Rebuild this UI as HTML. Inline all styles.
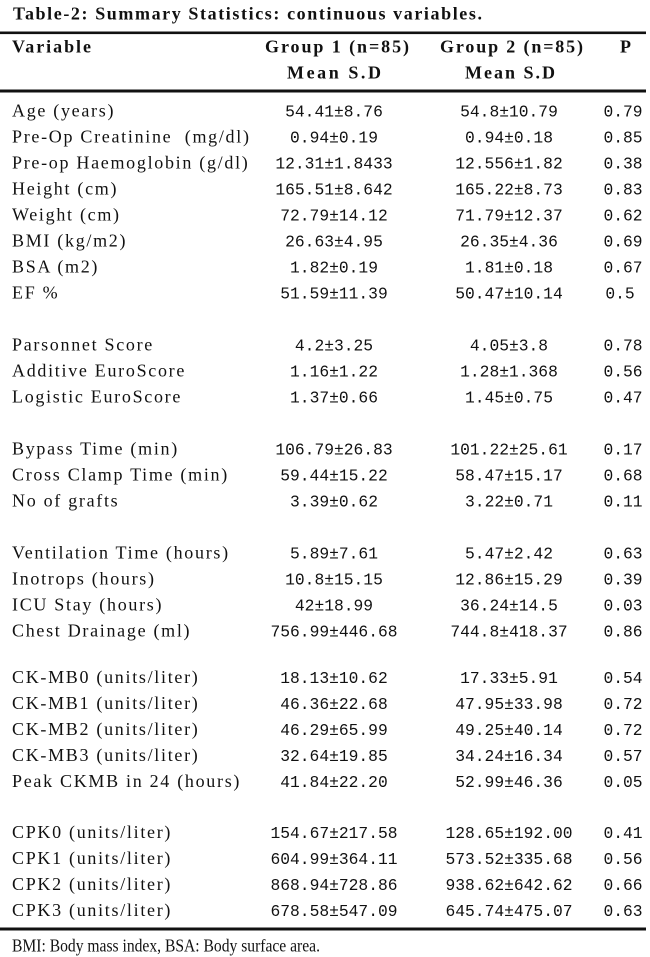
<!DOCTYPE html>
<html>
<head>
<meta charset="utf-8">
<style>
html,body{margin:0;padding:0;background:#fff;}
svg{display:block;}
.t{font-family:"Liberation Serif",serif;font-size:18px;fill:#111;white-space:pre;}
.b{font-weight:bold;}
.l{font-family:"Liberation Serif",serif;font-size:18px;fill:#111;letter-spacing:1.7px;white-space:pre;}
.n{font-family:"Liberation Mono",monospace;font-size:16.3px;fill:#111;text-anchor:middle;white-space:pre;}
</style>
</head>
<body>
<svg width="650" height="957" viewBox="0 0 650 957" xmlns="http://www.w3.org/2000/svg">
<rect x="0" y="0" width="650" height="957" fill="#fff"/>
<text class="t b" x="13" y="19.3" textLength="469" lengthAdjust="spacing">Table-2: Summary Statistics: continuous variables.</text>
<rect x="0" y="31.5" width="646" height="2.6" fill="#111"/>
<text class="t b" x="12" y="52.7" textLength="79" lengthAdjust="spacing">Variable</text>
<text class="t b" x="265" y="52.7" textLength="144" lengthAdjust="spacing">Group 1 (n=85)</text>
<text class="t b" x="440" y="52.7" textLength="143" lengthAdjust="spacing">Group 2 (n=85)</text>
<text class="t b" x="620" y="52.7">P</text>
<text class="t b" x="287" y="78.3" textLength="94" lengthAdjust="spacing">Mean S.D</text>
<text class="t b" x="465" y="78.3" textLength="90" lengthAdjust="spacing">Mean S.D</text>
<rect x="0" y="89.5" width="646" height="3" fill="#111"/>

<g>
<text class="l" x="12" y="116.7">Age (years)</text>
<text class="n" x="334" y="116.7">54.41±8.76</text><text class="n" x="509" y="116.7">54.8±10.79</text><text class="n" x="623" y="116.7">0.79</text>

<text class="l" x="12" y="142.7">Pre-Op Creatinine  (mg/dl)</text>
<text class="n" x="334" y="142.7">0.94±0.19</text><text class="n" x="509" y="142.7">0.94±0.18</text><text class="n" x="623" y="142.7">0.85</text>

<text class="l" x="12" y="168.7">Pre-op Haemoglobin (g/dl)</text>
<text class="n" x="334" y="168.7">12.31±1.8433</text><text class="n" x="509" y="168.7">12.556±1.82</text><text class="n" x="623" y="168.7">0.38</text>

<text class="l" x="12" y="194.7">Height (cm)</text>
<text class="n" x="334" y="194.7">165.51±8.642</text><text class="n" x="509" y="194.7">165.22±8.73</text><text class="n" x="623" y="194.7">0.83</text>

<text class="l" x="12" y="220.7">Weight (cm)</text>
<text class="n" x="334" y="220.7">72.79±14.12</text><text class="n" x="509" y="220.7">71.79±12.37</text><text class="n" x="623" y="220.7">0.62</text>

<text class="l" x="12" y="246.7">BMI (kg/m2)</text>
<text class="n" x="334" y="246.7">26.63±4.95</text><text class="n" x="509" y="246.7">26.35±4.36</text><text class="n" x="623" y="246.7">0.69</text>

<text class="l" x="12" y="272.7">BSA (m2)</text>
<text class="n" x="334" y="272.7">1.82±0.19</text><text class="n" x="509" y="272.7">1.81±0.18</text><text class="n" x="623" y="272.7">0.67</text>

<text class="l" x="12" y="298.7">EF %</text>
<text class="n" x="334" y="298.7">51.59±11.39</text><text class="n" x="509" y="298.7">50.47±10.14</text><text class="n" x="620" y="298.7">0.5</text>

<text class="l" x="12" y="350.7">Parsonnet Score</text>
<text class="n" x="334" y="350.7">4.2±3.25</text><text class="n" x="509" y="350.7">4.05±3.8</text><text class="n" x="623" y="350.7">0.78</text>

<text class="l" x="12" y="376.7">Additive EuroScore</text>
<text class="n" x="334" y="376.7">1.16±1.22</text><text class="n" x="509" y="376.7">1.28±1.368</text><text class="n" x="623" y="376.7">0.56</text>

<text class="l" x="12" y="402.7">Logistic EuroScore</text>
<text class="n" x="334" y="402.7">1.37±0.66</text><text class="n" x="509" y="402.7">1.45±0.75</text><text class="n" x="623" y="402.7">0.47</text>

<text class="l" x="12" y="454.7">Bypass Time (min)</text>
<text class="n" x="334" y="454.7">106.79±26.83</text><text class="n" x="509" y="454.7">101.22±25.61</text><text class="n" x="623" y="454.7">0.17</text>

<text class="l" x="12" y="480.7">Cross Clamp Time (min)</text>
<text class="n" x="334" y="480.7">59.44±15.22</text><text class="n" x="509" y="480.7">58.47±15.17</text><text class="n" x="623" y="480.7">0.68</text>

<text class="l" x="12" y="506.7">No of grafts</text>
<text class="n" x="334" y="506.7">3.39±0.62</text><text class="n" x="509" y="506.7">3.22±0.71</text><text class="n" x="623" y="506.7">0.11</text>

<text class="l" x="12" y="558.7">Ventilation Time (hours)</text>
<text class="n" x="334" y="558.7">5.89±7.61</text><text class="n" x="509" y="558.7">5.47±2.42</text><text class="n" x="623" y="558.7">0.63</text>

<text class="l" x="12" y="584.7">Inotrops (hours)</text>
<text class="n" x="334" y="584.7">10.8±15.15</text><text class="n" x="509" y="584.7">12.86±15.29</text><text class="n" x="623" y="584.7">0.39</text>

<text class="l" x="12" y="610.7">ICU Stay (hours)</text>
<text class="n" x="334" y="610.7">42±18.99</text><text class="n" x="509" y="610.7">36.24±14.5</text><text class="n" x="623" y="610.7">0.03</text>

<text class="l" x="12" y="636.7">Chest Drainage (ml)</text>
<text class="n" x="334" y="636.7">756.99±446.68</text><text class="n" x="509" y="636.7">744.8±418.37</text><text class="n" x="623" y="636.7">0.86</text>

<text class="l" x="12" y="683">CK-MB0 (units/liter)</text>
<text class="n" x="334" y="683">18.13±10.62</text><text class="n" x="509" y="683">17.33±5.91</text><text class="n" x="623" y="683">0.54</text>

<text class="l" x="12" y="709">CK-MB1 (units/liter)</text>
<text class="n" x="334" y="709">46.36±22.68</text><text class="n" x="509" y="709">47.95±33.98</text><text class="n" x="623" y="709">0.72</text>

<text class="l" x="12" y="735">CK-MB2 (units/liter)</text>
<text class="n" x="334" y="735">46.29±65.99</text><text class="n" x="509" y="735">49.25±40.14</text><text class="n" x="623" y="735">0.72</text>

<text class="l" x="12" y="761">CK-MB3 (units/liter)</text>
<text class="n" x="334" y="761">32.64±19.85</text><text class="n" x="509" y="761">34.24±16.34</text><text class="n" x="623" y="761">0.57</text>

<text class="l" x="12" y="787">Peak CKMB in 24 (hours)</text>
<text class="n" x="334" y="787">41.84±22.20</text><text class="n" x="509" y="787">52.99±46.36</text><text class="n" x="623" y="787">0.05</text>

<text class="l" x="12" y="838">CPK0 (units/liter)</text>
<text class="n" x="334" y="838">154.67±217.58</text><text class="n" x="509" y="838">128.65±192.00</text><text class="n" x="623" y="838">0.41</text>

<text class="l" x="12" y="864">CPK1 (units/liter)</text>
<text class="n" x="334" y="864">604.99±364.11</text><text class="n" x="509" y="864">573.52±335.68</text><text class="n" x="623" y="864">0.56</text>

<text class="l" x="12" y="890">CPK2 (units/liter)</text>
<text class="n" x="334" y="890">868.94±728.86</text><text class="n" x="509" y="890">938.62±642.62</text><text class="n" x="623" y="890">0.66</text>

<text class="l" x="12" y="916">CPK3 (units/liter)</text>
<text class="n" x="334" y="916">678.58±547.09</text><text class="n" x="509" y="916">645.74±475.07</text><text class="n" x="623" y="916">0.63</text>
</g>

<rect x="0" y="927.5" width="646" height="3" fill="#111"/>
<text class="t" x="12" y="951.5" font-size="17" textLength="308" lengthAdjust="spacingAndGlyphs">BMI: Body mass index, BSA: Body surface area.</text>
</svg>
</body>
</html>
